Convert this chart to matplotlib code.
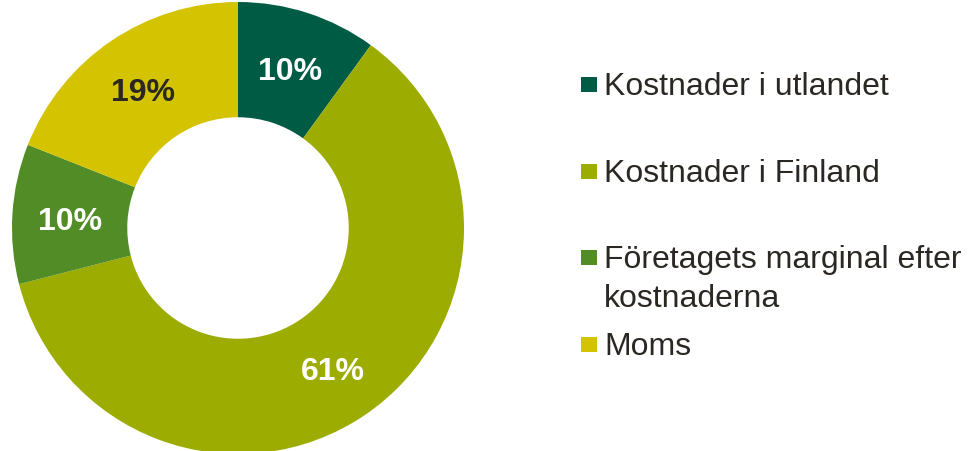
import matplotlib.pyplot as plt
from matplotlib.patches import Rectangle

plt.rcParams['font.family'] = ['Liberation Sans', 'DejaVu Sans']

categories = ['Kostnader i utlandet', 'Kostnader i Finland',
              'Företagets marginal efter\nkostnaderna', 'Moms']
shares = [10, 61, 10, 19]
colors = ['#005b45', '#9dac00', '#528c26', '#d3c300']
label_colors = ['white', 'white', 'white', '#2b2823']
text_color = '#2b2823'

W, H = 974, 452
fig = plt.figure(figsize=(W / 100, H / 100), dpi=100)

# donut, centre ~ (238, 229) px, outer radius ~226 px
cx, cy, r_px = 238, 229, 226
ax = fig.add_axes([(cx - r_px) / W, (H - cy - r_px) / H, 2 * r_px / W, 2 * r_px / H])
wedges, texts = ax.pie(shares, colors=colors, startangle=90, counterclock=False,
                       radius=1.0, wedgeprops=dict(width=0.51, linewidth=0),
                       labels=[f'{v}%' for v in shares], labeldistance=0.745,
                       textprops=dict(fontsize=23, fontweight='bold'))
for t, c in zip(texts, label_colors):
    t.set_color(c)
    t.set_ha('center')
    t.set_va('center_baseline')
ax.set_xlim(-1, 1)
ax.set_ylim(-1, 1)
ax.set_aspect('equal')
ax.axis('off')

# legend drawn by hand (square + text), first-line baselines ~86.7 px apart
for i, (lab, col) in enumerate(zip(categories, colors)):
    base = 95 + i * 86.7
    fig.patches.append(Rectangle((581 / W, (H - base + 2) / H), 16 / W, 15 / H,
                                 transform=fig.transFigure, color=col, lw=0))
    for j, line in enumerate(lab.split('\n')):
        fig.text(604 / W, (H - base - j * 39) / H, line, fontsize=23,
                 color=text_color, ha='left', va='baseline')

fig.savefig('out.png', dpi=100)
